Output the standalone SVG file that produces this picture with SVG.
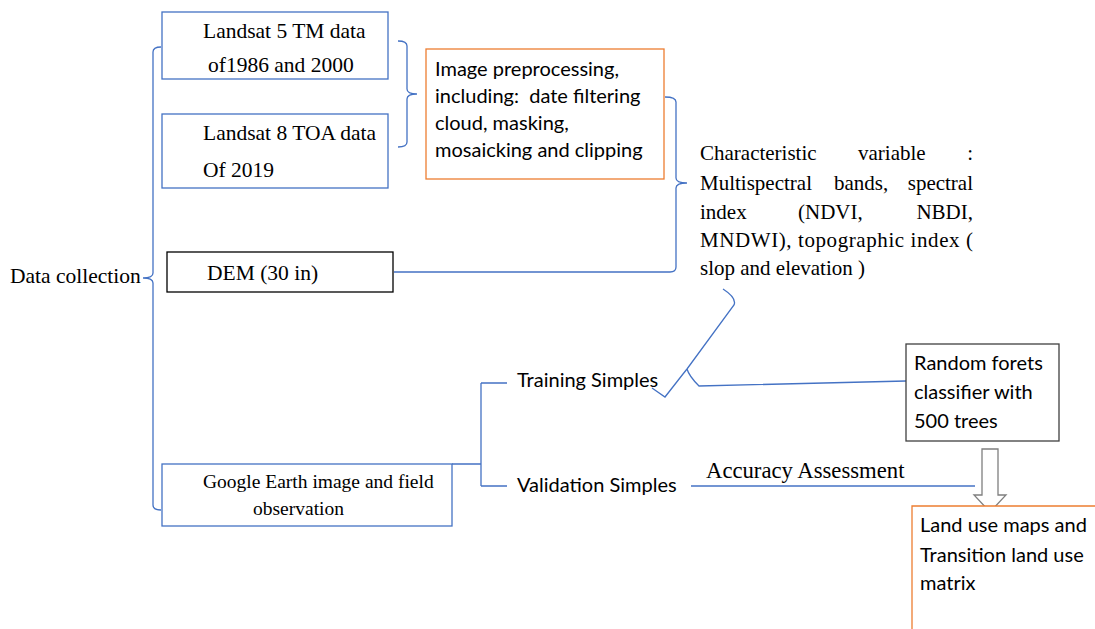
<svg xmlns="http://www.w3.org/2000/svg" width="1095" height="629" viewBox="0 0 1095 629">
<style>
.serif{font-family:"Liberation Serif","Times New Roman",serif;fill:#000}
.sans{font-family:Lato,"Liberation Sans",Arial,sans-serif;fill:#000;font-size:20px}
.conn{fill:none;stroke:#4472C4;stroke-width:1.3}
.bbox{fill:#fff;stroke:#4472C4;stroke-width:1.3}
.obox{fill:#fff;stroke:#ED7D31;stroke-width:1.3}
.kbox{fill:#fff;stroke:#000;stroke-width:1.3}
</style>
<rect width="1095" height="629" fill="#fff"/>
<g id="connectors">
<path class="conn" d="M161,47 Q153,47 153,52 L153,273 Q153,278 143,278 Q153,278 153,283 L153,505 Q153,510 161,510"/>
<path class="conn" d="M398,41 Q407,41 407,46 L407,89 Q407,94 417,94 Q407,94 407,99 L407,142 Q407,147 398,147"/>
<path class="conn" d="M665,97 Q676,97 676,102 L676,178 Q676,183 687,183 Q676,183 676,188 L676,267 Q676,272 670,272 L394,272"/>
<path class="conn" d="M452,464 L481,464 M481,383 L481,486 M481,383 L507,383 M481,486 L507,486"/>
<path class="conn" d="M723,289 Q737,298 734,305 L687,369 L683,374 L665,397 L652,388 M687,369 Q689,376 699,386 L906,381"/>
<path d="M691,486 L975,486" fill="none" stroke="#4472C4" stroke-width="1.3"/>
</g>
<g id="landsat5">
<rect class="bbox" x="162" y="12" width="226" height="67"/>
<text class="serif" font-size="21.5" x="203" y="38">Landsat 5 TM data</text>
<text class="serif" font-size="21.5" x="208" y="72">of1986 and 2000</text>
</g>
<g id="landsat8">
<rect class="bbox" x="162" y="114" width="226" height="74"/>
<text class="serif" font-size="21.5" x="203" y="140">Landsat 8 TOA data</text>
<text class="serif" font-size="21.5" x="203" y="177">Of 2019</text>
</g>
<g id="preprocessing">
<rect class="obox" x="426" y="49" width="238" height="130"/>
<text class="sans" x="435" y="76">Image preprocessing,</text>
<text class="sans" x="435" y="103" xml:space="preserve">including:  date filtering</text>
<text class="sans" x="435" y="130">cloud, masking,</text>
<text class="sans" x="435" y="157">mosaicking and clipping</text>
</g>
<g id="dem">
<rect class="kbox" x="167" y="252" width="226" height="40"/>
<text class="serif" font-size="21.5" x="207" y="280">DEM (30 in)</text>
</g>
<g id="data-collection">
<text class="serif" font-size="21.5" x="10" y="283">Data collection</text>
</g>
<g id="characteristic">
<text class="serif" font-size="21" x="700" y="160">Characteristic</text>
<text class="serif" font-size="21" x="858" y="160">variable</text>
<text class="serif" font-size="21" x="973" y="160" text-anchor="end">:</text>
<text class="serif" font-size="21" x="700" y="190">Multispectral</text>
<text class="serif" font-size="21" x="834" y="190">bands,</text>
<text class="serif" font-size="21" x="973" y="190" text-anchor="end">spectral</text>
<text class="serif" font-size="21" x="700" y="219">index</text>
<text class="serif" font-size="21" x="798" y="219">(NDVI,</text>
<text class="serif" font-size="21" x="973" y="219" text-anchor="end">NBDI,</text>
<text class="serif" font-size="21" x="700" y="247" textLength="273" lengthAdjust="spacing">MNDWI), topographic index (</text>
<text class="serif" font-size="21" x="700" y="275">slop and elevation )</text>
</g>
<g id="google">
<rect class="bbox" x="162" y="464" width="290" height="62"/>
<text class="serif" font-size="19.5" x="203" y="488">Google Earth image and field</text>
<text class="serif" font-size="19.5" x="253" y="515">observation</text>
</g>
<g id="training">
<text class="sans" x="517" y="387">Training Simples</text>
</g>
<g id="validation">
<text class="sans" x="517" y="492">Validation Simples</text>
</g>
<g id="random-forest">
<rect x="906" y="344" width="153" height="97" fill="#fff" stroke="#404040" stroke-width="1.3"/>
<text class="sans" x="914" y="370">Random forets</text>
<text class="sans" x="914" y="399">classifier with</text>
<text class="sans" x="914" y="428">500 trees</text>
</g>
<g id="accuracy">
<text class="serif" font-size="22.7" x="706" y="478">Accuracy Assessment</text>
</g>
<g id="arrow">
<path d="M982,449 L998,449 L998,495 L1006,495 L990,512 L974,495 L982,495 Z" fill="#fff" stroke="#7f7f7f" stroke-width="1.3"/>
</g>
<g id="land-use">
<path class="obox" d="M912,640 L912,506 L1100,506"/>
<text class="sans" x="920" y="532">Land use maps and</text>
<text class="sans" x="920" y="562">Transition land use</text>
<text class="sans" x="920" y="590">matrix</text>
</g>
</svg>
